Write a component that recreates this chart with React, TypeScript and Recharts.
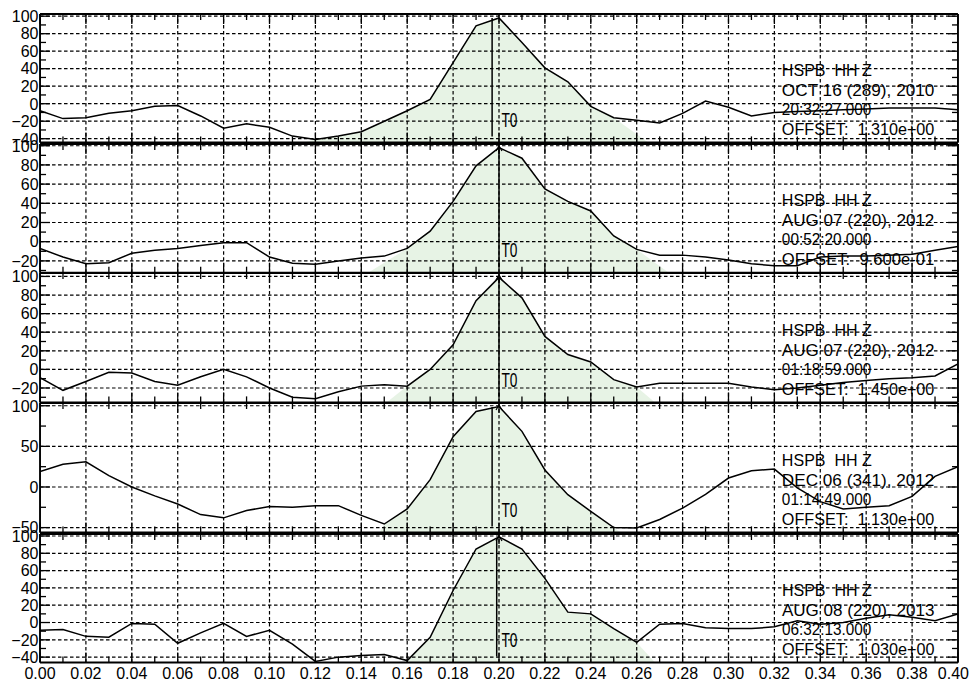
import React from 'react';
import { ComposedChart, Line, Area, XAxis, YAxis, ReferenceLine, ReferenceDot } from 'recharts';

// ---------- shared axis data ----------
const timeSec = [0.0, 0.01, 0.02, 0.03, 0.04, 0.05, 0.06, 0.07, 0.08, 0.09, 0.1, 0.11, 0.12, 0.13, 0.14, 0.15, 0.16, 0.17, 0.18, 0.19, 0.2, 0.21, 0.22, 0.23, 0.24, 0.25, 0.26, 0.27, 0.28, 0.29, 0.3, 0.31, 0.32, 0.33, 0.34, 0.35, 0.36, 0.37, 0.38, 0.39, 0.4];
const xTickLabels = ['0.00', '0.02', '0.04', '0.06', '0.08', '0.10', '0.12', '0.14', '0.16', '0.18', '0.20', '0.22', '0.24', '0.26', '0.28', '0.30', '0.32', '0.34', '0.36', '0.38', '0.40'];
const xGridValues = [0.02, 0.04, 0.06, 0.08, 0.1, 0.12, 0.14, 0.16, 0.18, 0.2, 0.22, 0.24, 0.26, 0.28, 0.3, 0.32, 0.34, 0.36, 0.38];
const pickTime = 0.2;

// ---------- panel 1 ----------
const amp1 = [-8, -17, -16, -11, -8, -3, -2, -14, -28, -23, -27, -37, -41, -37, -32, -20, -8, 5, 47, 89, 98, 70, 41, 25, -3, -16, -19, -22, -11, 3, -4, -14, -10, -9, -8, -7, -6, -5, -5, -5, -7];
const shadeT1 = [0.115, 0.12, 0.13, 0.14, 0.15, 0.16, 0.17, 0.18, 0.19, 0.2, 0.21, 0.22, 0.23, 0.24, 0.25, 0.265];
const shadeA1 = [-44.2, -41, -37, -32, -20, -8, 5, 47, 89, 98, 70, 41, 25, -3, -16, -44.2];
const domain1: [number, number] = [-44.2, 102.5];
const yTicks1 = [-40, -30, -20, -10, 0, 10, 20, 30, 40, 50, 60, 70, 80, 90, 100];
const yLabelVals1 = [-40, -20, 0, 20, 40, 60, 80, 100];
const yLabels1 = ['\u221240', '\u221220', '0', '20', '40', '60', '80', '100'];
const header1 = ['HSPB  HH Z', 'OCT 16 (289), 2010', '20:32:27.000', 'OFFSET:  1.310e+00'];
const t0_1 = 0.197;

// ---------- panel 2 ----------
const amp2 = [-7, -16, -23, -22, -12, -9, -7, -4, -1, -1, -16, -22.5, -23.5, -20, -17, -15, -7, 11, 42, 79, 98, 87, 55, 42, 32, 6, -8, -14, -14, -16, -19, -23, -25, -25, -16, -15, -15, -14, -13, -9, -5];
const shadeT2 = [0.143, 0.16, 0.17, 0.18, 0.19, 0.2, 0.21, 0.22, 0.23, 0.24, 0.25, 0.26, 0.274];
const shadeA2 = [-32.3, -7, 11, 42, 79, 98, 87, 55, 42, 32, 6, -8, -32.3];
const domain2: [number, number] = [-32.3, 101.8];
const yTicks2 = [-30, -20, -10, 0, 10, 20, 30, 40, 50, 60, 70, 80, 90, 100];
const yLabelVals2 = [-20, 0, 20, 40, 60, 80, 100];
const yLabels2 = ['\u221220', '0', '20', '40', '60', '80', '100'];
const header2 = ['HSPB  HH Z', 'AUG 07 (220), 2012', '00:52:20.000', 'OFFSET:  9.600e-01'];
const t0_2 = 0.2;

// ---------- panel 3 ----------
const amp3 = [-9, -22.5, -13, -3, -4, -13, -17, -8, 0, -8, -20, -30, -31.5, -24, -18, -16.5, -18, 0, 26.5, 74, 99, 77, 35.5, 16, 8, -11, -19, -15, -15, -15, -15, -19, -22, -20, -17, -14, -12, -10, -9, -7, 6];
const shadeT3 = [0.151, 0.16, 0.17, 0.18, 0.19, 0.2, 0.21, 0.22, 0.23, 0.24, 0.25, 0.26, 0.268];
const shadeA3 = [-35.5, -18, 0, 26.5, 74, 99, 77, 35.5, 16, 8, -11, -19, -35.5];
const domain3: [number, number] = [-35.5, 103.7];
const yTicks3 = [-30, -20, -10, 0, 10, 20, 30, 40, 50, 60, 70, 80, 90, 100];
const yLabelVals3 = [-20, 0, 20, 40, 60, 80, 100];
const yLabels3 = ['\u221220', '0', '20', '40', '60', '80', '100'];
const header3 = ['HSPB  HH Z', 'AUG 07 (220), 2012', '01:18:59.000', 'OFFSET:  1.450e+00'];
const t0_3 = 0.2;

// ---------- panel 4 ----------
const amp4 = [19, 28, 31, 14, 0, -11, -21, -34, -38, -29, -24, -25, -23, -23, -35, -45.6, -27, 9, 62, 93, 99, 68.5, 21, -9.5, -30, -50, -50.5, -40, -26, -9, 11, 20, 22, -1, -18, -27, -25, -23, -11.5, 13, 25];
const shadeT4 = [0.148, 0.15, 0.16, 0.17, 0.18, 0.19, 0.2, 0.21, 0.22, 0.23, 0.24, 0.25, 0.253];
const shadeA4 = [-55.9, -45.6, -27, 9, 62, 93, 99, 68.5, 21, -9.5, -30, -50, -55.9];
const domain4: [number, number] = [-55.9, 103.4];
const yTicks4 = [-50, -25, 0, 25, 50, 75, 100];
const yLabelVals4 = [-50, 0, 50, 100];
const yLabels4 = ['\u221250', '0', '50', '100'];
const header4 = ['HSPB  HH Z', 'DEC 06 (341), 2012', '01:14:49.000', 'OFFSET:  1.130e+00'];
const t0_4 = 0.197;

// ---------- panel 5 ----------
const amp5 = [-9, -8, -16, -17, -1, -2, -24, -12, -1, -16, -9, -25, -45, -40, -38, -37, -44, -17, 37, 85, 99, 85, 51, 12, 10, -7, -23, -2, -1, -6, -7, -7, -5, 2, -2, 0, 5, 9, 6, 2, 10];
const shadeT5 = [0.158, 0.16, 0.17, 0.18, 0.19, 0.2, 0.21, 0.22, 0.23, 0.24, 0.25, 0.26, 0.268];
const shadeA5 = [-46.2, -44, -17, 37, 85, 99, 85, 51, 12, 10, -7, -23, -46.2];
const domain5: [number, number] = [-46.2, 102.3];
const yTicks5 = [-40, -30, -20, -10, 0, 10, 20, 30, 40, 50, 60, 70, 80, 90, 100];
const yLabelVals5 = [-40, -20, 0, 20, 40, 60, 80, 100];
const yLabels5 = ['\u221240', '\u221220', '0', '20', '40', '60', '80', '100'];
const header5 = ['HSPB  HH Z', 'AUG 08 (220), 2013', '06:32:13.000', 'OFFSET:  1.030e+00'];
const t0_5 = 0.199;

// ---------- layout / style ----------
const W = 971;
const FONT = '"Liberation Sans", Arial, Helvetica, sans-serif';
const INK = '#000';
const SHADE = '#a8d5a0';
const HEADER_WIDTHS = [90, 152.5, 89.5, 152.5];
const HEADER_BASE = [-66.2, -46.7, -27.2, -7.7];

type Spec = {
  amp: number[]; shadeT: number[]; shadeA: number[]; domain: [number, number];
  yTicks: number[]; yLabelVals: number[]; yLabels: string[]; header: string[]; t0: number;
};

const specs: Spec[] = [
  { amp: amp1, shadeT: shadeT1, shadeA: shadeA1, domain: domain1, yTicks: yTicks1, yLabelVals: yLabelVals1, yLabels: yLabels1, header: header1, t0: t0_1 },
  { amp: amp2, shadeT: shadeT2, shadeA: shadeA2, domain: domain2, yTicks: yTicks2, yLabelVals: yLabelVals2, yLabels: yLabels2, header: header2, t0: t0_2 },
  { amp: amp3, shadeT: shadeT3, shadeA: shadeA3, domain: domain3, yTicks: yTicks3, yLabelVals: yLabelVals3, yLabels: yLabels3, header: header3, t0: t0_3 },
  { amp: amp4, shadeT: shadeT4, shadeA: shadeA4, domain: domain4, yTicks: yTicks4, yLabelVals: yLabelVals4, yLabels: yLabels4, header: header4, t0: t0_4 },
  { amp: amp5, shadeT: shadeT5, shadeA: shadeA5, domain: domain5, yTicks: yTicks5, yLabelVals: yLabelVals5, yLabels: yLabels5, header: header5, t0: t0_5 },
];

const layouts = [
  { top: 14.3, bottom: 142.7 },
  { top: 144, bottom: 272.7 },
  { top: 273.3, bottom: 402.7 },
  { top: 403.3, bottom: 532.7 },
  { top: 533.5, bottom: 662 },
];

const XTick = (props: any) => {
  const { x, y, payload, sgn, showLabel } = props;
  const k = Math.round(payload.value * 100);
  const major = k % 2 === 0;
  const len = major ? 10 : 6;
  const last = k === 40;
  return (
    <g>
      <line x1={x} x2={x} y1={y} y2={y + sgn * len} stroke={INK} strokeWidth={1.3} />
      {showLabel && major ? (
        <text x={last ? x + 11 : x} y={y + 16} textAnchor={last ? 'end' : 'middle'} fontFamily={FONT} fontSize={16} fill={INK}>
          {xTickLabels[k / 2]}
        </text>
      ) : null}
    </g>
  );
};

const YTick = (props: any) => {
  const { x, y, payload, sgn, labelVals, labels } = props;
  const idx = labelVals.indexOf(payload.value);
  const major = idx >= 0;
  const len = major ? 10 : 6;
  return (
    <g>
      <line x1={x} x2={x + sgn * len} y1={y} y2={y} stroke={INK} strokeWidth={1.3} />
      {labels && major ? (
        <text x={x - 1.5} y={y + 5.8} textAnchor="end" fontFamily={FONT} fontSize={16} fill={INK}>
          {labels[idx]}
        </text>
      ) : null}
    </g>
  );
};

function Panel({ spec, top, bottom, showX, caret }: { spec: Spec; top: number; bottom: number; showX: boolean; caret: boolean }) {
  const TOP_AX = 12;
  const BOT_AX = showX ? 28 : 12;
  const plotH = bottom - top;
  const height = plotH + TOP_AX + BOT_AX;
  const [d0, d1] = spec.domain;
  const perPx = (d1 - d0) / plotH;
  const rows = timeSec.map((t, i) => ({ x: t, amp: spec.amp[i] }));
  const shade = spec.shadeT.map((t, i) => ({ x: t, s: spec.shadeA[i] }));
  const axLine = { stroke: INK, strokeWidth: 1.9 };
  return (
    <div style={{ position: 'absolute', left: 0, top: top - TOP_AX, width: W, height }}>
      <ComposedChart width={W} height={height} data={rows} margin={{ top: 0, right: 0, bottom: 0, left: 0 }}>
        <XAxis xAxisId="b" dataKey="x" type="number" domain={[0, 0.4]} allowDataOverflow ticks={timeSec} interval={0}
          orientation="bottom" height={BOT_AX} tickSize={0} tickMargin={0} tickLine={false} axisLine={axLine}
          tick={(p: any) => <XTick {...p} sgn={-1} showLabel={showX} />} />
        <XAxis xAxisId="t" dataKey="x" type="number" domain={[0, 0.4]} allowDataOverflow ticks={timeSec} interval={0}
          orientation="top" height={TOP_AX} tickSize={0} tickMargin={0} tickLine={false} axisLine={axLine}
          tick={(p: any) => <XTick {...p} sgn={1} showLabel={false} />} />
        <YAxis yAxisId="l" type="number" domain={spec.domain} allowDataOverflow ticks={spec.yTicks} interval={0}
          orientation="left" width={40} tickSize={0} tickMargin={0} tickLine={false} axisLine={axLine}
          tick={(p: any) => <YTick {...p} sgn={1} labelVals={spec.yLabelVals} labels={spec.yLabels} />} />
        <YAxis yAxisId="r" type="number" domain={spec.domain} allowDataOverflow ticks={spec.yTicks} interval={0}
          orientation="right" width={13} tickSize={0} tickMargin={0} tickLine={false} axisLine={axLine}
          tick={(p: any) => <YTick {...p} sgn={-1} labelVals={spec.yLabelVals} labels={null} />} />
        <Area xAxisId="b" yAxisId="l" data={shade} dataKey="s" type="linear" baseValue={d0}
          stroke="none" fill={SHADE} fillOpacity={0.28} isAnimationActive={false} dot={false} activeDot={false} />
        {xGridValues.map((v) => (
          <ReferenceLine key={'gx' + v} xAxisId="b" yAxisId="l" x={v} stroke={INK} strokeWidth={1.2} strokeDasharray="3.5 2.5" />
        ))}
        {spec.yLabelVals.map((v) => (
          <ReferenceLine key={'gy' + v} xAxisId="b" yAxisId="l" y={v} stroke={INK} strokeWidth={1.2} strokeDasharray="3.5 2.5" />
        ))}
        <Line xAxisId="b" yAxisId="l" dataKey="amp" type="linear" stroke={INK} strokeWidth={1.5} dot={false} activeDot={false} isAnimationActive={false} />
        <ReferenceLine xAxisId="b" yAxisId="l" ifOverflow="visible"
          segment={[{ x: spec.t0, y: d1 - 4 * perPx }, { x: spec.t0, y: d0 + 6 * perPx }]} stroke={INK} strokeWidth={1.5} />
        <ReferenceDot xAxisId="b" yAxisId="l" x={pickTime} y={d0} ifOverflow="visible"
          shape={(p: any) => (
            <text x={p.cx + 2.5} y={p.cy - 15.5} fontFamily={FONT} fontSize={21} fill={INK} textLength={16} lengthAdjust="spacingAndGlyphs">T0</text>
          )} />
        {caret ? (
          <ReferenceDot xAxisId="b" yAxisId="l" x={pickTime} y={d1} ifOverflow="visible"
            shape={(p: any) => (
              <path d={`M${p.cx - 3},${p.cy + 7} L${p.cx},${p.cy + 2} L${p.cx + 3},${p.cy + 7}`} fill="none" stroke={INK} strokeWidth={1.2} />
            )} />
        ) : null}
        <ReferenceDot xAxisId="b" yAxisId="l" x={0.32} y={d0} ifOverflow="visible"
          shape={(p: any) => (
            <g>
              {spec.header.map((line, i) => (
                <text key={i} x={p.cx + 7.5} y={p.cy + HEADER_BASE[i]} fontFamily={FONT} fontSize={16} fill={INK}
                  textLength={HEADER_WIDTHS[i]} lengthAdjust="spacingAndGlyphs" style={{ whiteSpace: 'pre' }}>
                  {line}
                </text>
              ))}
            </g>
          )} />
      </ComposedChart>
    </div>
  );
}

export default function App() {
  return (
    <div style={{ position: 'absolute', left: 0, top: 0, width: W, height: 684, background: '#fff', overflow: 'hidden' }}>
      {specs.map((s, i) => (
        <Panel key={i} spec={s} top={layouts[i].top} bottom={layouts[i].bottom} showX={i === specs.length - 1} caret={i > 0} />
      ))}
    </div>
  );
}
